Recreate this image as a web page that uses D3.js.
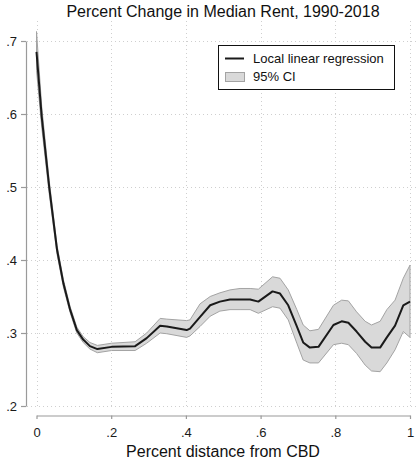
<!DOCTYPE html>
<html>
<head>
<meta charset="utf-8">
<script src="https://cdn.jsdelivr.net/npm/d3@7"></script>
<style>
  html, body { margin: 0; padding: 0; background: #fff; }
  svg { display: block; font-family: "Liberation Sans", Arial, Helvetica, sans-serif; }
</style>
</head>
<body>
<svg id="chart" width="420" height="462"></svg>
<script>
// Local linear regression of the percent change in median rent on distance from the CBD
const distance = [0.000, 0.014, 0.034, 0.055, 0.072, 0.090, 0.108, 0.125, 0.143, 0.163,
  0.201, 0.264, 0.295, 0.331, 0.349, 0.402, 0.411, 0.438, 0.465, 0.491,
  0.518, 0.545, 0.572, 0.594, 0.632, 0.652, 0.674, 0.697, 0.714, 0.732,
  0.755, 0.795, 0.817, 0.835, 0.857, 0.880, 0.897, 0.920, 0.938, 0.960,
  0.982, 1.000];
const fitted = [0.685, 0.596, 0.500, 0.414, 0.368, 0.332, 0.304, 0.291, 0.282, 0.278,
  0.281, 0.282, 0.293, 0.310, 0.309, 0.304, 0.306, 0.322, 0.338, 0.343,
  0.346, 0.346, 0.346, 0.343, 0.357, 0.354, 0.338, 0.309, 0.287, 0.280,
  0.281, 0.311, 0.316, 0.314, 0.302, 0.288, 0.280, 0.280, 0.294, 0.310,
  0.338, 0.343];
const ciLower = [0.660, 0.582, 0.491, 0.408, 0.363, 0.328, 0.300, 0.287, 0.278, 0.273,
  0.276, 0.276, 0.286, 0.300, 0.299, 0.294, 0.296, 0.309, 0.323, 0.330,
  0.332, 0.332, 0.332, 0.327, 0.336, 0.334, 0.318, 0.286, 0.263, 0.259,
  0.259, 0.284, 0.286, 0.284, 0.272, 0.256, 0.248, 0.247, 0.259, 0.277,
  0.302, 0.294];
const ciUpper = [0.713, 0.610, 0.509, 0.420, 0.373, 0.336, 0.308, 0.295, 0.287, 0.283,
  0.286, 0.288, 0.300, 0.320, 0.319, 0.317, 0.318, 0.340, 0.350, 0.355,
  0.359, 0.361, 0.361, 0.360, 0.377, 0.375, 0.359, 0.332, 0.311, 0.303,
  0.305, 0.338, 0.345, 0.344, 0.329, 0.316, 0.311, 0.316, 0.332, 0.345,
  0.375, 0.393];

const xTicks = [0, 0.2, 0.4, 0.6, 0.8, 1];
const yTicks = [0.2, 0.3, 0.4, 0.5, 0.6, 0.7];
const tickLabel = v => v === 0 ? "0" : v === 1 ? "1" : d3.format(".1f")(v).replace(/^0/, "");

const titleText = "Percent Change in Median Rent, 1990-2018";
const xTitleText = "Percent distance from CBD";
const legendLabels = ["Local linear regression", "95% CI"];

const rows = distance.map((d, i) => ({ x: d, y: fitted[i], lo: ciLower[i], hi: ciUpper[i] }));

const svg = d3.select("#chart");

const x = d3.scaleLinear().domain([0, 1]).range([36.5, 410]);
const y = d3.scaleLinear().domain([0.2, 0.7]).range([406, 41]);

// plot region bounds for grid lines
const region = { left: 27, right: 418, top: 21, bottom: 409 };

// dotted grid
const grid = svg.append("g").attr("stroke", "#cfcfcf").attr("stroke-width", 1)
  .attr("stroke-dasharray", "1,3");
grid.selectAll("line.v").data(xTicks).join("line")
  .attr("class", "v")
  .attr("x1", d => Math.round(x(d)) + 0.5).attr("x2", d => Math.round(x(d)) + 0.5)
  .attr("y1", region.top).attr("y2", region.bottom);
grid.selectAll("line.h").data(yTicks).join("line")
  .attr("class", "h")
  .attr("y1", d => Math.round(y(d)) + 0.5).attr("y2", d => Math.round(y(d)) + 0.5)
  .attr("x1", region.left).attr("x2", region.right);

// confidence band
const band = d3.area()
  .x(d => x(d.x))
  .y0(d => y(d.lo))
  .y1(d => y(d.hi));
svg.append("path").datum(rows)
  .attr("d", band)
  .attr("fill", "#d9d9d9")
  .attr("stroke", "#a3a3a3")
  .attr("stroke-width", 1)
  .attr("stroke-linejoin", "round");

// fitted line
const line = d3.line().x(d => x(d.x)).y(d => y(d.y));
svg.append("path").datum(rows)
  .attr("d", line)
  .attr("fill", "none")
  .attr("stroke", "#1a1a1a")
  .attr("stroke-width", 2)
  .attr("stroke-linejoin", "round");

// axes
function styleAxis(g) {
  g.selectAll(".domain").attr("stroke", "#9a9a9a").attr("stroke-width", 1.2);
  g.selectAll(".tick line").attr("stroke", "#9a9a9a").attr("stroke-width", 1.2);
  g.selectAll(".tick text").attr("fill", "#1a1a1a")
    .attr("font-family", "'Liberation Sans', Arial, sans-serif");
}

const yAxis = svg.append("g").attr("transform", "translate(26,0)")
  .call(d3.axisLeft(y).tickValues(yTicks).tickFormat(tickLabel)
    .tickSize(5).tickSizeOuter(0).tickPadding(4))
  .attr("font-size", 13);
styleAxis(yAxis);

const xAxis = svg.append("g").attr("transform", "translate(0,415.5)")
  .call(d3.axisBottom(x).tickValues(xTicks).tickFormat(tickLabel)
    .tickSize(3.5).tickSizeOuter(0).tickPadding(9))
  .attr("font-size", 13);
styleAxis(xAxis);

// titles
svg.append("text")
  .attr("x", 223).attr("y", 17)
  .attr("text-anchor", "middle")
  .attr("font-size", 16)
  .attr("fill", "#111")
  .text(titleText);

svg.append("text")
  .attr("x", 223).attr("y", 457)
  .attr("text-anchor", "middle")
  .attr("font-size", 16)
  .attr("fill", "#111")
  .text(xTitleText);

// legend
const legend = svg.append("g");
legend.append("rect")
  .attr("x", 218.5).attr("y", 45.5).attr("width", 176).attr("height", 44)
  .attr("fill", "#fff").attr("stroke", "#111").attr("stroke-width", 1);
legend.append("line")
  .attr("x1", 225).attr("x2", 244).attr("y1", 58.5).attr("y2", 58.5)
  .attr("stroke", "#1a1a1a").attr("stroke-width", 2);
legend.append("rect")
  .attr("x", 225.5).attr("y", 72.5).attr("width", 19).attr("height", 9)
  .attr("fill", "#d9d9d9").attr("stroke", "#a3a3a3").attr("stroke-width", 1);
legend.selectAll("text.lab").data(legendLabels).join("text")
  .attr("class", "lab")
  .attr("x", 253)
  .attr("y", (d, i) => 63 + i * 18)
  .attr("font-size", 13)
  .attr("fill", "#111")
  .text(d => d);
</script>
</body>
</html>
